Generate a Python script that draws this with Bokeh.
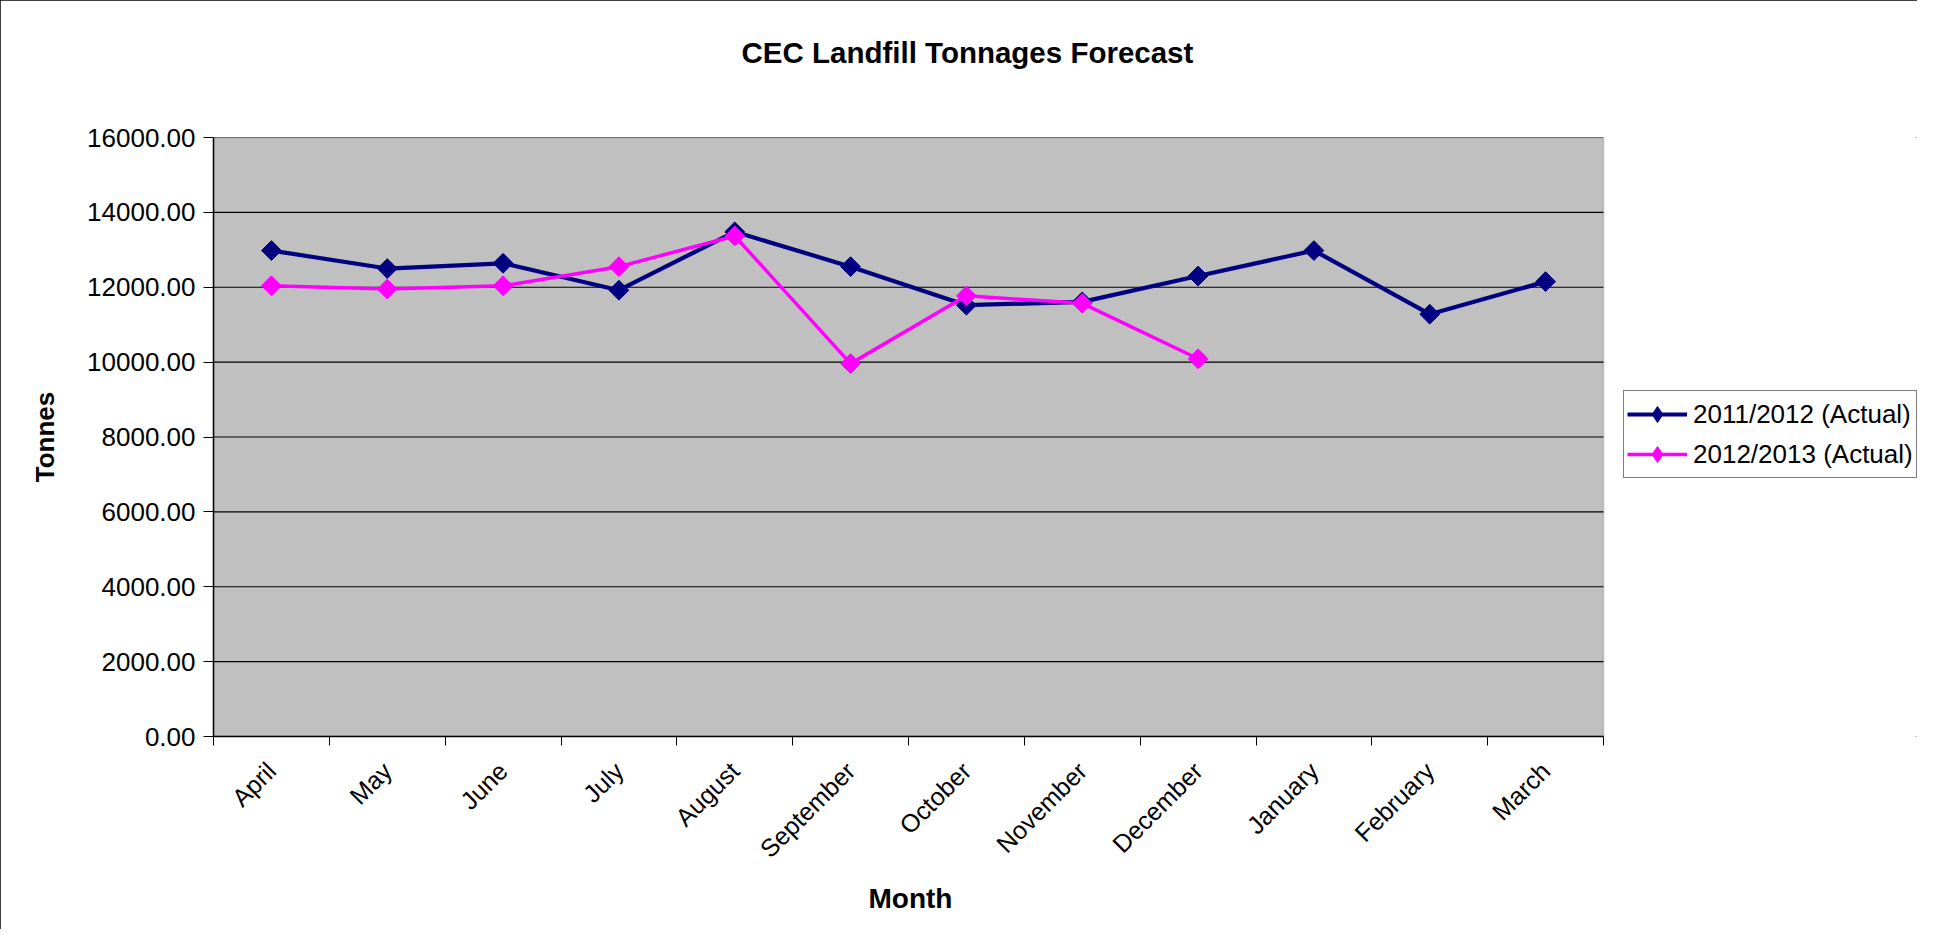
import numpy as np
from bokeh.plotting import figure
from bokeh.models import (Range1d, FixedTicker, NumeralTickFormatter, Legend, LegendItem,
                          BoxAnnotation, Title)
from bokeh.embed import file_html
from bokeh.resources import INLINE

# ---------------- data ----------------
months = ["April", "May", "June", "July", "August", "September", "October",
          "November", "December", "January", "February", "March"]
tonnes_2011_12 = [12980, 12500, 12640, 11920, 13480, 12550, 11520, 11610, 12300, 12980, 11280, 12150]
tonnes_2012_13 = [12040, 11950, 12040, 12550, 13370, 9960, 11770, 11570, 10090]
series_names = ["2011/2012 (Actual)", "2012/2013 (Actual)"]
series_colors = ["#000080", "#FF00FF"]
y_ticks = [0, 2000, 4000, 6000, 8000, 10000, 12000, 14000, 16000]
title_text = "CEC Landfill Tonnages Forecast"
x_title = "Month"
y_title = "Tonnes"

FONT = "Liberation Sans"
W, H = 1917, 929
LEFT, RIGHT, TOP, BOTTOM = 213, 0, 137, 193
PLOT_AREA_W = 1390                     # width of the grey plot area in px

n = len(months)
centers = [i + 0.5 for i in range(n)]   # category centres on a 0..n axis
edges = list(range(n + 1))              # category boundaries
frame_w = W - LEFT - RIGHT
x_end = n * frame_w / PLOT_AREA_W       # frame also hosts the legend to the right

p = figure(width=W, height=H, x_range=Range1d(0, x_end), y_range=Range1d(y_ticks[0], y_ticks[-1]),
           output_backend="svg", toolbar_location=None,
           min_border_left=LEFT, min_border_right=RIGHT, min_border_top=TOP, min_border_bottom=BOTTOM,
           background_fill_color="white", border_fill_color="white")
p.styles = {"outline": "2px solid #000000", "outline-offset": "-2px"}
p.outline_line_color = None
p.title.text = ""

# grey plot area
p.add_layout(BoxAnnotation(left=0, right=n, bottom=y_ticks[0], top=y_ticks[-1],
                           fill_color="#C0C0C0", fill_alpha=1.0, line_color="#808080",
                           line_width=2, level="underlay"))

# title: spacer next to the frame, then the real title further up
p.add_layout(Title(text=" ", text_font_size="10px", text_color="white", standoff=56), "above")
p.add_layout(Title(text=title_text, align="left", offset=528, standoff=0, text_font=FONT,
                   text_font_style="bold", text_font_size="29.5px", text_color="black"), "above")

# y axis
p.yaxis.ticker = FixedTicker(ticks=y_ticks)
p.yaxis.formatter = NumeralTickFormatter(format="0.00")
p.yaxis.major_label_text_font = FONT
p.yaxis.major_label_text_font_size = "26px"
p.yaxis.major_label_text_color = "black"
p.yaxis.major_tick_in = 0
p.yaxis.major_tick_out = 10
p.yaxis.major_label_standoff = 8
p.yaxis.minor_tick_line_color = None
p.yaxis.axis_line_color = "black"
p.yaxis.axis_line_width = 1.5
p.yaxis.major_tick_line_color = "black"
p.yaxis.axis_label = y_title
p.yaxis.axis_label_text_font = FONT
p.yaxis.axis_label_text_font_style = "bold"
p.yaxis.axis_label_text_font_size = "26px"
p.yaxis.axis_label_text_color = "black"
p.yaxis.axis_label_standoff = 24

p.ygrid.visible = False
p.xgrid.visible = False

# horizontal grid lines limited to the plot area
p.segment(x0=0, y0=y_ticks[1:], x1=n, y1=y_ticks[1:], line_color="black", line_width=1.2)

# x axis: labels at category centres, ticks at boundaries
p.xaxis.bounds = (0, n)
p.xaxis.ticker = FixedTicker(ticks=centers, minor_ticks=edges)
p.xaxis.major_label_overrides = {c: m for c, m in zip(centers, months)}
p.xaxis.major_tick_line_color = None
p.xaxis.minor_tick_line_color = "black"
p.xaxis.minor_tick_in = 0
p.xaxis.minor_tick_out = 9
p.xaxis.axis_line_color = "black"
p.xaxis.axis_line_width = 1.5
p.xaxis.major_label_orientation = np.pi / 4
p.xaxis.major_label_standoff = 21
p.xaxis.major_label_text_font = FONT
p.xaxis.major_label_text_font_size = "25px"
p.xaxis.major_label_text_color = "black"

p.add_layout(Title(text=x_title, align="left", offset=655, standoff=10, text_font=FONT,
                   text_font_style="bold", text_font_size="28px", text_color="black"), "below")

# series
items = []
for name, color, vals, lw in [(series_names[0], series_colors[0], tonnes_2011_12, 4.2),
                              (series_names[1], series_colors[1], tonnes_2012_13, 3.5)]:
    xs = centers[:len(vals)]
    rl = p.line(xs, vals, line_color=color, line_width=lw, line_join="round")
    p.scatter(xs, vals, marker="square", angle=np.pi / 4, size=14,
              fill_color=color, line_color=color)
    # legend key marker (legend glyphs ignore marker rotation); nothing is plotted
    key = p.scatter(x=[np.nan], y=[np.nan], marker="diamond", size=24,
                    fill_color=color, line_color=color)
    items.append(LegendItem(label=name, renderers=[rl, key]))

legend = Legend(items=items, location=(1410, 258), orientation="vertical",
                border_line_color="black", border_line_width=1.2, background_fill_color="white",
                background_fill_alpha=1.0,
                label_text_font=FONT, label_text_font_size="26px", label_text_color="black",
                glyph_width=60, glyph_height=40, label_height=40, spacing=0, padding=3, margin=0,
                label_standoff=6)
p.add_layout(legend, "center")

open("out.html", "w").write(file_html(p, INLINE))
